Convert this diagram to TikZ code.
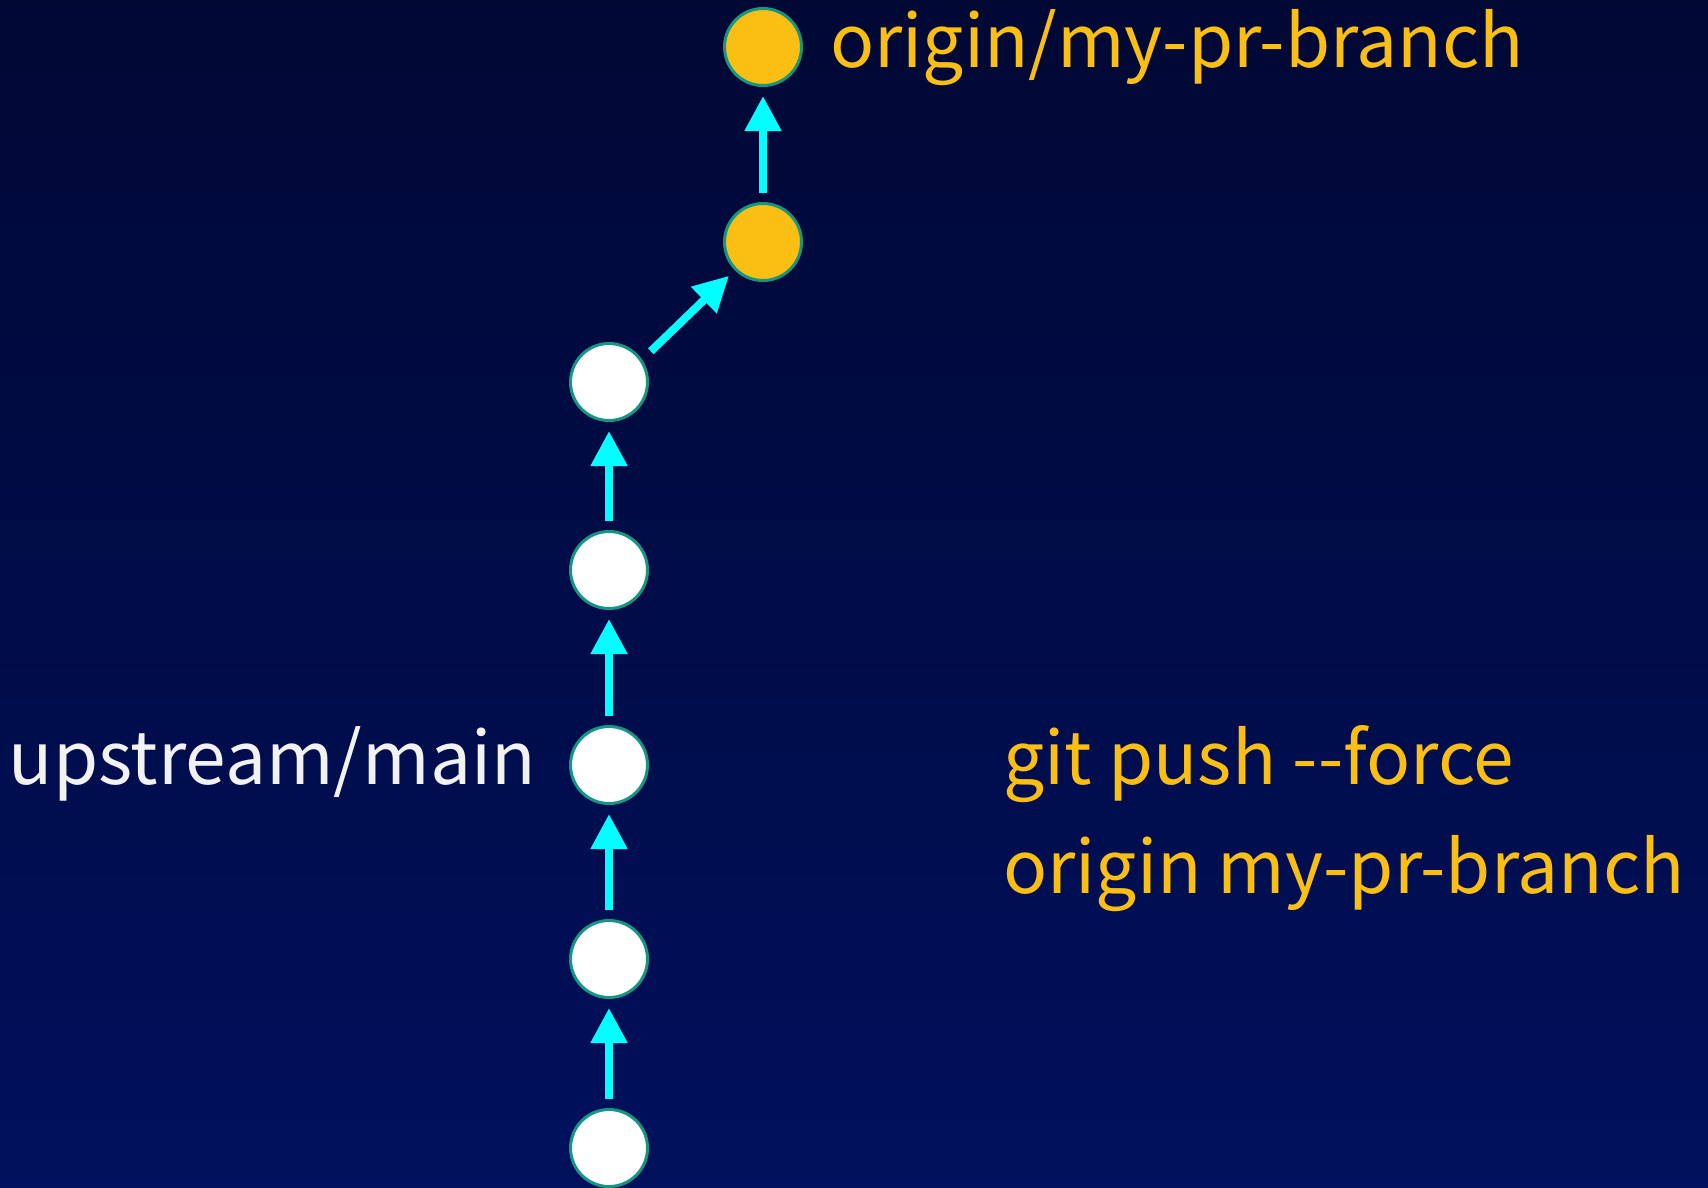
\documentclass[tikz,border=0pt]{standalone}
\usepackage{fontspec}
\setmainfont{Noto Sans CJK KR}[Ligatures=TeXOff]
\usetikzlibrary{arrows.meta}
\definecolor{navytop}{RGB}{0,8,52}
\definecolor{navybot}{RGB}{0,16,92}
\definecolor{commitorange}{RGB}{251,190,18}
\definecolor{commitrim}{RGB}{20,150,130}
\definecolor{linkcyan}{RGB}{0,255,255}
\definecolor{labelwhite}{RGB}{242,242,242}
\tikzset{
  commit/.style={circle, draw=commitrim, line width=3pt, minimum size=77pt, inner sep=0pt},
  plain/.style={commit, fill=white},
  pushed/.style={commit, fill=commitorange},
  link/.style={linkcyan, line width=8pt, -{Triangle[width=35pt,length=35pt]}, shorten <=9pt, shorten >=9pt},
  lbl/.style={inner sep=0pt, font=\fontsize{73}{109}\selectfont}
}
\begin{document}
\begin{tikzpicture}[x=1pt, y=-1pt]
%%%% Background:
\shade[top color=navytop, bottom color=navybot] (0,0) rectangle (1708,1187);
\useasboundingbox (0,0) rectangle (1708,1187);
%%%% Commits on main:
\node[plain] (c1) at (609,1148) {};
\node[plain] (c2) at (609,959) {};
\node[plain] (c3) at (609,765) {};
\node[plain] (c4) at (609,570) {};
\node[plain] (c5) at (609,382) {};
%%%% Commits on the pr branch:
\node[pushed] (p1) at (763,242) {};
\node[pushed] (p2) at (763,47) {};
%%%% Parent links:
\draw[link] (c1) -- (c2);
\draw[link] (c2) -- (c3);
\draw[link] (c3) -- (c4);
\draw[link] (c4) -- (c5);
\draw[link, shorten <=12pt, shorten >=8pt] (c5.34) -- (p1.225);
\draw[link] (p1) -- (p2);
%%%% Labels:
\node[lbl, labelwhite, anchor=base east] (main) at (536,784) {upstream/main};
\node[lbl, commitorange, anchor=base west] (prbranch) at (830,67) {origin/my-pr-branch};
\node[lbl, commitorange, anchor=base west] (cmd1) at (1003,784) {git push --force};
\node[lbl, commitorange, anchor=base west] (cmd2) at (1003,893) {origin my-pr-branch};
\end{tikzpicture}
\end{document}
